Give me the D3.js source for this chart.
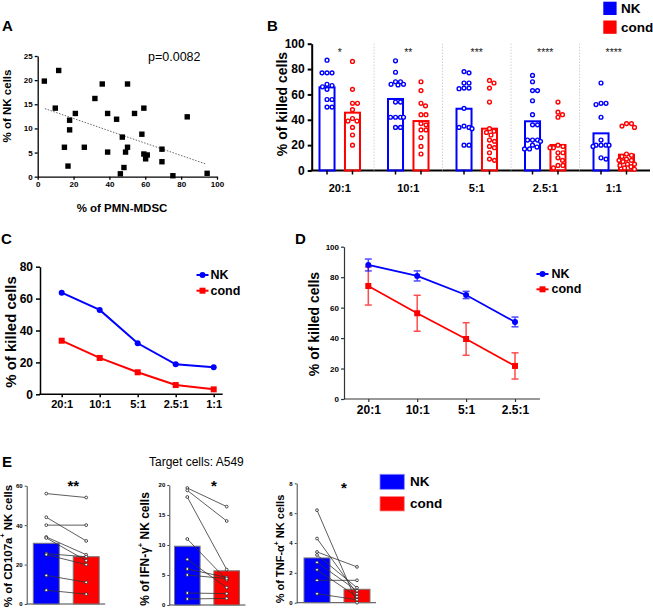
<!DOCTYPE html>
<html><head><meta charset="utf-8">
<script src="https://cdn.jsdelivr.net/npm/d3@7"></script>
<style>
body{margin:0;background:#fff;}
svg{display:block;font-family:"Liberation Sans",Arial,sans-serif;}
</style></head><body>
<svg id="c" width="653" height="608"></svg>
<script>
// ---------- DATA ----------
// Panel A: scatter
const mdscX = [3.7, 11.7, 9.8, 17.8, 17.8, 14.9, 16.9, 21.0, 26.0, 31.9, 36.0, 39.0, 39.0, 44.0, 50.1, 47.2, 50.1, 49.0, 48.1, 46.1, 54.0, 59.2, 58.1, 59.2, 60.2, 61.1, 69.3, 69.3, 75.4, 83.4, 94.5];
const nkY   = [19.8, 22.0, 14.2, 11.7, 9.7, 6.1, 2.2, 13.1, 6.1, 16.2, 19.2, 13.1, 5.1, 11.9, 19.2, 8.2, 6.1, 5.1, 1.9, 0.6, 13.1, 14.2, 8.8, 4.7, 3.7, 4.5, 5.7, 3.1, 0.2, 12.4, 0.7];
const regX = [4, 94];
const regY = [14.1, 2.6];
const pLabel = "p=0.0082";
const ticksAx = [0, 20, 40, 60, 80, 100];
const ticksAy = [0, 5, 10, 15, 20, 25];

// Panel B: bars + dots
const ratiosB = ["20:1", "10:1", "5:1", "2.5:1", "1:1"];
const seriesNames = ["NK", "cond"];
const barNK_B   = [65.6, 56.4, 48.7, 38.8, 29.3];
const barCond_B = [45.6, 39.0, 33.0, 20.1, 12.5];
const dotsNK_B = [
  [87, 77, 77, 77, 68, 67, 66, 64, 56, 56, 50, 50],
  [86.5, 77.5, 70, 70, 68, 68, 67.5, 54, 54, 42, 42, 42, 42, 34, 34],
  [78, 77, 69, 69, 65, 65, 64.5, 49, 35, 34, 34, 33, 20, 20],
  [75, 70, 63, 63, 55, 44, 36, 36, 24, 24, 24, 23, 20, 18.5, 17, 17],
  [69, 53, 53, 52, 42, 24, 20, 20, 20, 20, 19, 10, 9]
];
const dotsCond_B = [
  [86, 64, 53, 53, 48, 41, 39, 39, 34, 28, 20],
  [70, 63, 53, 51, 44, 44, 37, 36, 32, 32, 26, 19, 13],
  [71, 69, 65, 54, 33, 31, 30, 28, 24, 23, 19, 18, 14, 9, 8],
  [54, 46, 44, 42, 20, 19, 18, 18, 14, 14, 10, 8, 4, 4, 2],
  [37, 37, 35, 34, 13, 12, 11, 9, 8, 8, 7, 5, 5, 4, 3, 2, 1]
];
const starsB = ["*", "**", "***", "****", "****"];
const ticksB = [0, 20, 40, 60, 80, 100];

// Panel C: lines
const ratiosC = ["20:1", "10:1", "5:1", "2.5:1", "1:1"];
const lineNK_C   = [63.7, 52.9, 32.0, 18.8, 16.9];
const lineCond_C = [33.6, 22.8, 13.8, 5.8, 3.1];
const ticksC = [0, 20, 40, 60, 80];

// Panel D: lines with error bars
const ratiosD = ["20:1", "10:1", "5:1", "2.5:1"];
const meanNK_D   = [88.0, 80.8, 68.3, 50.6];
const errNK_D    = [3.9, 3.3, 2.4, 3.2];
const meanCond_D = [74.2, 56.3, 39.4, 21.7];
const errCond_D  = [12.5, 11.8, 10.7, 8.6];
const ticksD = [0, 20, 40, 60, 80, 100];

// Panel E: paired data
const eTitle = "Target cells: A549";
const nkCD107   = [56, 44, 40, 34, 33.5, 25.5, 25, 14.5, 7];
const condCD107 = [54, 32, 40, 25, 22, 24, 20, 11, 5];
const barCD107  = [30.8, 24.0];
const nkIFN   = [19.5, 19.1, 18, 11, 7.6, 6, 5, 2, 1];
const condIFN = [16.4, 14, 5.9, 4.2, 2.9, 4.6, 4.4, 1.9, 1.1];
const barIFN  = [9.8, 5.7];
const nkTNF   = [6.2, 4.3, 3.4, 3.2, 2.7, 2.2, 1.5, 0.6];
const condTNF = [0, 0.6, 2.4, 1.0, 0.8, 0.4, 1.5, 0.2];
const barTNF  = [3.0, 0.9];
const ticksE1 = [0, 20, 40, 60];
const ticksE2 = [0, 5, 10, 15, 20];
const ticksE3 = [0, 2, 4, 6, 8];

// ---------- DRAWING ----------
const BLUE = "#0000ff", RED = "#ff0000";
const FONT = '"Liberation Sans", Arial, sans-serif';
const svg = d3.select("#c");

function style(g, o) {
  g.attr("font-family", FONT).attr("font-size", o.fs).attr("font-weight", "bold");
  g.select(".domain").attr("stroke", o.col || "#000").attr("stroke-width", o.sw);
  g.selectAll(".tick line").attr("stroke", o.col || "#000").attr("stroke-width", o.sw);
  g.selectAll(".tick text").attr("fill", "#000");
}
function label(t, x, y, size, opts = {}) {
  return svg.append("text").attr("x", x).attr("y", y).attr("font-size", size)
    .attr("font-weight", opts.weight || "bold").attr("fill", opts.fill || "#000")
    .attr("text-anchor", opts.anchor || "start").attr("dominant-baseline", "central").text(t);
}
function vTitle(parts, cx, cy, size) {
  const t = svg.append("text").attr("transform", `translate(${cx},${cy}) rotate(-90)`)
    .attr("text-anchor", "middle").attr("dominant-baseline", "central")
    .attr("font-size", size).attr("font-weight", "bold");
  let shift = 0;
  parts.forEach(p => {
    const s = t.append("tspan").text(p.t);
    if (p.sup) { s.attr("font-size", size * 0.62).attr("dy", -size * 0.4); shift = size * 0.4; }
    else if (shift) { s.attr("dy", shift); shift = 0; }
  });
}

// ===== Panel A =====
label("A", 2, 25, 15);
const xA = d3.scaleLinear().domain([0, 100]).range([37.7, 217]);
const yA = d3.scaleLinear().domain([0, 25]).range([176.7, 56]);
svg.append("g").attr("transform", `translate(0,${yA(0)})`)
  .call(d3.axisBottom(xA).tickValues(ticksAx).tickSize(3).tickSizeOuter(0).tickPadding(2))
  .call(style, { fs: 8, sw: 1.3 });
svg.append("g").attr("transform", `translate(${xA(0)},0)`)
  .call(d3.axisLeft(yA).tickValues(ticksAy).tickSize(3).tickSizeOuter(0).tickPadding(2))
  .call(style, { fs: 8, sw: 1.3 });
svg.append("line").attr("x1", xA(regX[0])).attr("y1", yA(regY[0]))
  .attr("x2", xA(regX[1])).attr("y2", yA(regY[1]))
  .attr("stroke", "#666").attr("stroke-width", 1).attr("stroke-dasharray", "1.5,1.5");
svg.append("g").selectAll("rect").data(mdscX).join("rect")
  .attr("x", (d, i) => xA(d) - 2.7).attr("y", (d, i) => yA(nkY[i]) - 2.7)
  .attr("width", 5.4).attr("height", 5.4).attr("fill", "#000");
label(pLabel, 148, 57, 12.5, { weight: "normal" });
vTitle([{ t: "% of NK cells" }], 7, 106, 11.5);
label("% of PMN-MDSC", 122, 208, 11.5, { anchor: "middle" });

// ===== Panel B =====
label("B", 267, 25, 15);
const xB = d3.scaleBand().domain(ratiosB).range([305.5, 648]);
const xBi = d3.scaleBand().domain(seriesNames).range([14, 54.5]).paddingInner(0.41);
const yB = d3.scaleLinear().domain([0, 100]).range([170.5, 43.7]);
const axBX = 311.7;
svg.append("g").attr("transform", `translate(${axBX},0)`)
  .call(d3.axisLeft(yB).tickValues(ticksB).tickSize(4).tickSizeOuter(0).tickPadding(3))
  .call(style, { fs: 12, sw: 2 });
svg.append("line").attr("x1", axBX - 1).attr("x2", 650).attr("y1", yB(0)).attr("y2", yB(0))
  .attr("stroke", "#000").attr("stroke-width", 2);
// dividers
ratiosB.slice(1).forEach(r => {
  svg.append("line").attr("x1", xB(r)).attr("x2", xB(r)).attr("y1", yB(100)).attr("y2", yB(0))
    .attr("stroke", "#bbb").attr("stroke-width", 1).attr("stroke-dasharray", "1,2");
});
function swarm(vals, cx, yS, minD, maxDx) {
  const placed = [];
  return vals.map(v => {
    const py = yS(v);
    let best = cx, bestD = -1;
    for (let k = 0; k < 200; k++) {
      const dx = k === 0 ? 0 : (k % 2 ? 1 : -1) * Math.ceil(k / 2) * 0.5;
      if (Math.abs(dx) > maxDx) break;
      const px = cx + dx;
      const md = placed.length ? Math.min(...placed.map(p => Math.hypot(p[0] - px, p[1] - py))) : 1e9;
      if (md >= minD) { best = px; bestD = md; break; }
      if (md > bestD) { bestD = md; best = px; }
    }
    placed.push([best, py]);
    return [best, py];
  });
}
ratiosB.forEach((r, gi) => {
  [[barNK_B, dotsNK_B, "NK", BLUE], [barCond_B, dotsCond_B, "cond", RED]].forEach(([bars, dots, s, col]) => {
    const bx = xB(r) + xBi(s), bw = xBi.bandwidth(), cx = bx + bw / 2;
    svg.append("rect").attr("x", bx).attr("y", yB(bars[gi])).attr("width", bw)
      .attr("height", yB(0) - yB(bars[gi])).attr("fill", "none").attr("stroke", col).attr("stroke-width", 2);
    svg.append("line").attr("x1", cx).attr("x2", cx).attr("y1", yB(0)).attr("y2", yB(0) + 4)
      .attr("stroke", "#000").attr("stroke-width", 1.5);
    const pts = swarm(dots[gi], cx, yB, 4.8, 8);
    svg.append("g").selectAll("circle").data(pts).join("circle")
      .attr("cx", d => d[0]).attr("cy", d => d[1]).attr("r", 1.9)
      .attr("fill", "#fff").attr("stroke", col).attr("stroke-width", 1.4);
  });
  const gc = xB(r) + xB.bandwidth() / 2;
  label(ratiosB[gi], gc, 188, 11, { anchor: "middle" });
  label(starsB[gi], gc, 52, 10.5, { anchor: "middle", weight: "normal", fill: "#222" });
});
vTitle([{ t: "% of killed cells" }], 282, 104, 14);
svg.append("rect").attr("x", 603.3).attr("y", 1.7).attr("width", 13.3).attr("height", 13.3).attr("fill", BLUE);
svg.append("rect").attr("x", 603.3).attr("y", 20.5).attr("width", 13.3).attr("height", 13.3).attr("fill", RED);
label(seriesNames[0], 621, 8.5, 13.5);
label(seriesNames[1], 621, 27.5, 13.5);

// ===== Panel C =====
label("C", 1, 238, 15);
const xC = d3.scalePoint().domain(ratiosC).range([61.7, 213.7]);
const yC = d3.scaleLinear().domain([0, 80]).range([394.3, 266.7]);
svg.append("g").attr("transform", `translate(40,0)`)
  .call(d3.axisLeft(yC).tickValues(ticksC).tickSize(4).tickSizeOuter(0).tickPadding(3))
  .call(style, { fs: 12, sw: 1.5 });
const gCx = svg.append("g").attr("transform", `translate(0,${yC(0)})`)
  .call(d3.axisBottom(xC).tickSize(3).tickPadding(3)).call(style, { fs: 11, sw: 1.5 });
gCx.select(".domain").remove();
svg.append("line").attr("x1", 39.3).attr("x2", 222.7).attr("y1", yC(0)).attr("y2", yC(0)).attr("stroke", "#000").attr("stroke-width", 1.5);
const lineC = d3.line().x((d, i) => xC(ratiosC[i])).y(d => yC(d));
svg.append("path").attr("d", lineC(lineCond_C)).attr("fill", "none").attr("stroke", RED).attr("stroke-width", 2);
svg.append("path").attr("d", lineC(lineNK_C)).attr("fill", "none").attr("stroke", BLUE).attr("stroke-width", 2);
svg.append("g").selectAll("rect").data(lineCond_C).join("rect")
  .attr("x", (d, i) => xC(ratiosC[i]) - 3).attr("y", d => yC(d) - 3).attr("width", 6).attr("height", 6).attr("fill", RED);
svg.append("g").selectAll("circle").data(lineNK_C).join("circle")
  .attr("cx", (d, i) => xC(ratiosC[i])).attr("cy", d => yC(d)).attr("r", 3).attr("fill", BLUE);
vTitle([{ t: "% of killed cells" }], 9.5, 332, 15);
function lineLegend(x0, x1, y, col, shape, text, tx, fs) {
  svg.append("line").attr("x1", x0).attr("x2", x1).attr("y1", y).attr("y2", y).attr("stroke", col).attr("stroke-width", 2);
  const cx = (x0 + x1) / 2;
  if (shape === "c") svg.append("circle").attr("cx", cx).attr("cy", y).attr("r", 3).attr("fill", col);
  else svg.append("rect").attr("x", cx - 3).attr("y", y - 3).attr("width", 6).attr("height", 6).attr("fill", col);
  label(text, tx, y, fs);
}
lineLegend(196.5, 208.5, 275, BLUE, "c", seriesNames[0], 210.5, 12.5);
lineLegend(196.5, 208.5, 290.7, RED, "s", seriesNames[1], 210.5, 12.5);

// ===== Panel D =====
label("D", 295, 238, 15);
const xD = d3.scalePoint().domain(ratiosD).range([368.3, 515]);
const yD = d3.scaleLinear().domain([0, 100]).range([399, 246.7]);
svg.append("g").attr("transform", `translate(344,0)`)
  .call(d3.axisLeft(yD).tickValues(ticksD).tickSize(3).tickSizeOuter(0).tickPadding(2))
  .call(style, { fs: 8, sw: 1.2, col: "#333" });
const gDx = svg.append("g").attr("transform", `translate(0,${yD(0)})`)
  .call(d3.axisBottom(xD).tickSize(3).tickPadding(3)).call(style, { fs: 12, sw: 1.2, col: "#333" });
gDx.select(".domain").remove();
svg.append("line").attr("x1", 344).attr("x2", 540).attr("y1", yD(0)).attr("y2", yD(0)).attr("stroke", "#333").attr("stroke-width", 1.2);
function errBars(means, errs, col) {
  const g = svg.append("g").attr("stroke", col).attr("stroke-width", 1.5).attr("opacity", 0.7);
  means.forEach((m, i) => {
    const x = xD(ratiosD[i]);
    g.append("line").attr("x1", x).attr("x2", x).attr("y1", yD(m - errs[i])).attr("y2", yD(m + errs[i]));
    g.append("line").attr("x1", x - 3.5).attr("x2", x + 3.5).attr("y1", yD(m - errs[i])).attr("y2", yD(m - errs[i]));
    g.append("line").attr("x1", x - 3.5).attr("x2", x + 3.5).attr("y1", yD(m + errs[i])).attr("y2", yD(m + errs[i]));
  });
}
const lineD = d3.line().x((d, i) => xD(ratiosD[i])).y(d => yD(d));
errBars(meanCond_D, errCond_D, RED);
svg.append("path").attr("d", lineD(meanCond_D)).attr("fill", "none").attr("stroke", RED).attr("stroke-width", 1.8);
svg.append("g").selectAll("rect").data(meanCond_D).join("rect")
  .attr("x", (d, i) => xD(ratiosD[i]) - 3).attr("y", d => yD(d) - 3).attr("width", 6).attr("height", 6).attr("fill", RED);
errBars(meanNK_D, errNK_D, BLUE);
svg.append("path").attr("d", lineD(meanNK_D)).attr("fill", "none").attr("stroke", BLUE).attr("stroke-width", 1.8);
svg.append("g").selectAll("circle").data(meanNK_D).join("circle")
  .attr("cx", (d, i) => xD(ratiosD[i])).attr("cy", d => yD(d)).attr("r", 3).attr("fill", BLUE);
vTitle([{ t: "% of killed cells" }], 313.5, 324, 14);
lineLegend(536.5, 548.5, 274, BLUE, "c", seriesNames[0], 551.5, 12.5);
lineLegend(536.5, 548.5, 289.3, RED, "s", seriesNames[1], 551.5, 12.5);

// ===== Panel E =====
label("E", 2, 461, 15);
label(eTitle, 149, 462, 12, { weight: "normal" });
function pairPlot(o) {
  const y = d3.scaleLinear().domain([0, o.max]).range(o.yr);
  const x = d3.scaleBand().domain(seriesNames).range(o.xr).paddingInner(0.35);
  svg.append("g").attr("transform", `translate(${o.ax},0)`)
    .call(d3.axisLeft(y).tickValues(o.ticks).tickSize(2).tickSizeOuter(0).tickPadding(2))
    .call(style, { fs: 6, sw: 1, col: "#444" });
  svg.append("line").attr("x1", o.ax).attr("x2", o.xr[1] + 6).attr("y1", y(0)).attr("y2", y(0)).attr("stroke", "#444").attr("stroke-width", 1);
  [BLUE, RED].forEach((col, i) => {
    svg.append("rect").attr("x", x(seriesNames[i])).attr("y", y(o.bars[i])).attr("width", x.bandwidth())
      .attr("height", y(0) - y(o.bars[i])).attr("fill", col).attr("stroke", "#777").attr("stroke-width", 1);
  });
  const c0 = x(seriesNames[0]) + x.bandwidth() / 2, c1 = x(seriesNames[1]) + x.bandwidth() / 2;
  const g = svg.append("g");
  o.nk.forEach((v, i) => {
    g.append("line").attr("x1", c0).attr("y1", y(v)).attr("x2", c1).attr("y2", y(o.cond[i]))
      .attr("stroke", "#333").attr("stroke-width", 0.8);
  });
  o.nk.forEach((v, i) => {
    [[c0, v], [c1, o.cond[i]]].forEach(([cx, val]) => {
      g.append("circle").attr("cx", cx).attr("cy", y(val)).attr("r", 1.4)
        .attr("fill", "#fff").attr("stroke", "#222").attr("stroke-width", 0.8);
    });
  });
  label(o.star, (c0 + c1) / 2 + 7, o.starY, 15, { anchor: "middle" });
  vTitle(o.title, o.tx, o.ty, o.tfs);
}
pairPlot({ max: 60, yr: [604, 485.7], ax: 26.7, xr: [33.3, 99.2], ticks: ticksE1, bars: barCD107, nk: nkCD107, cond: condCD107,
  star: "**", starY: 485, title: [{ t: "% of CD107a" }, { t: "+", sup: 1 }, { t: " NK cells" }], tx: 7.5, ty: 546, tfs: 11.5 });
pairPlot({ max: 20, yr: [605, 485], ax: 169.3, xr: [174.5, 239.5], ticks: ticksE2, bars: barIFN, nk: nkIFN, cond: condIFN,
  star: "*", starY: 485, title: [{ t: "% of IFN-γ" }, { t: "+", sup: 1 }, { t: " NK cells" }], tx: 145, ty: 549, tfs: 12 });
pairPlot({ max: 8, yr: [602.7, 483.3], ax: 296.7, xr: [304, 370], ticks: ticksE3, bars: barTNF, nk: nkTNF, cond: condTNF,
  star: "*", starY: 487, title: [{ t: "% of TNF-α" }, { t: "+", sup: 1 }, { t: " NK cells" }], tx: 280, ty: 549, tfs: 11 });
svg.append("rect").attr("x", 380).attr("y", 474.3).attr("width", 24.3).attr("height", 15).attr("fill", BLUE).attr("stroke", "#8888ff").attr("stroke-width", 0.8);
svg.append("rect").attr("x", 380).attr("y", 496.5).attr("width", 24.3).attr("height", 14.5).attr("fill", RED).attr("stroke", "#ff8888").attr("stroke-width", 0.8);
label(seriesNames[0], 410, 481.5, 13.5);
label(seriesNames[1], 410, 503, 13.5);
</script>
</body></html>
